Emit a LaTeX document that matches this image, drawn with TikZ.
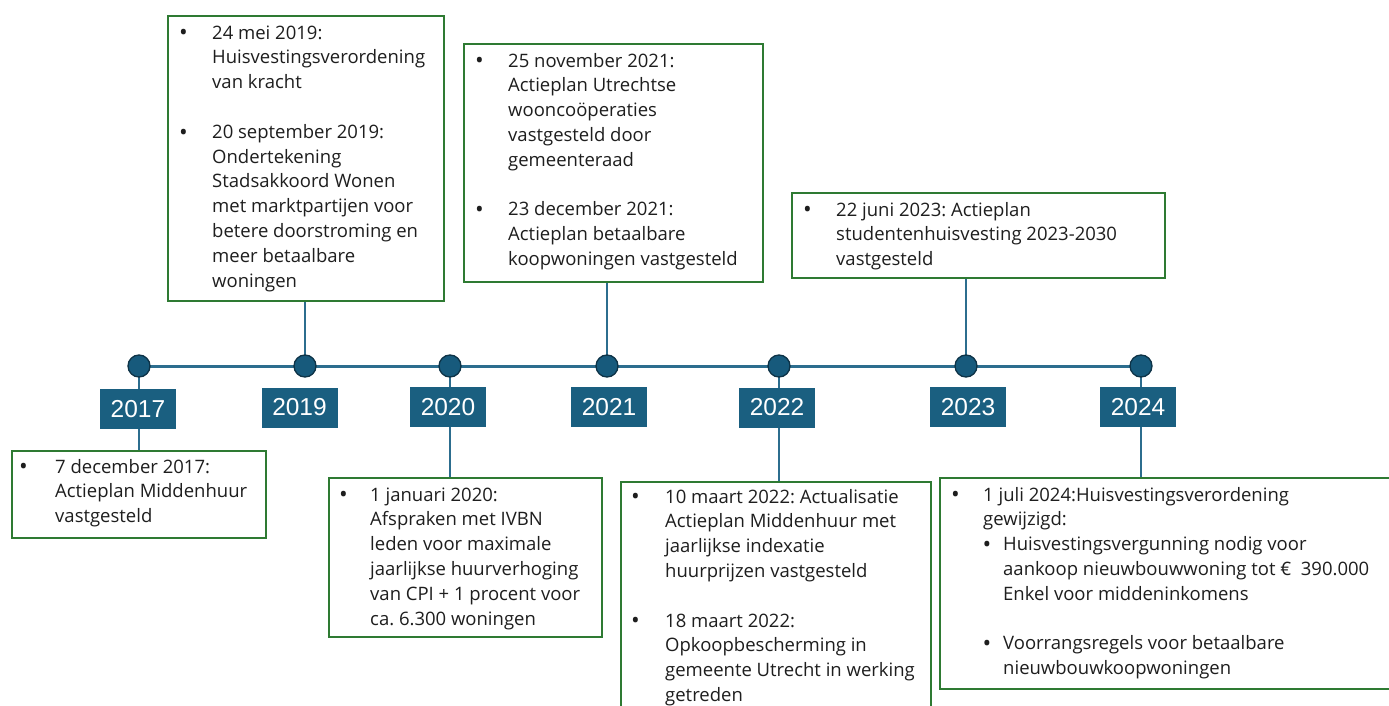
\documentclass[tikz,border=0pt]{standalone}
\usepackage{fontspec}
\setmainfont{Open Sans}
\newfontfamily\yearfont{Liberation Sans}
\usepackage{array}
\usetikzlibrary{backgrounds}
\definecolor{boxgreen}{HTML}{2E7A32}
\definecolor{yearblue}{HTML}{1A5F80}
\definecolor{dotblue}{HTML}{175A7C}
\definecolor{dotedge}{HTML}{0E3347}
\definecolor{lineblue}{HTML}{2C6D8E}
\definecolor{textgray}{HTML}{1E1E1E}
\newcommand\bul[1]{\makebox[#1][l]{\kern-0.5pt\raisebox{-1.8pt}{\scalebox{1.25}{\textbullet}}}}
\frenchspacing
\begin{document}
\begin{tikzpicture}[x=1pt,y=-1pt,
  box/.style={draw=boxgreen, line width=1.6pt, rectangle, inner sep=0pt, anchor=north west},
  yearbox/.style={fill=yearblue, text=white, font=\yearfont\fontsize{24.5}{28}\selectfont, minimum width=76pt, minimum height=40pt, inner sep=0pt},
  dot/.style={circle, fill=dotblue, draw=dotedge, line width=1.3pt, minimum size=22pt, inner sep=0pt},
  txt/.style={anchor=north west, inner sep=0pt, text=textgray, font=\fontsize{18.5}{24.8}\selectfont},
  link/.style={draw=lineblue, line width=2pt},
  axis/.style={draw=lineblue, line width=3pt}]
\useasboundingbox (0,0) rectangle (1389,706);

% event boxes
\node[box, minimum width=254pt, minimum height=87pt] (b2017) at (11,450) {};
\node[box, minimum width=276pt, minimum height=285pt] (b2019) at (167,15) {};
\node[box, minimum width=299pt, minimum height=238pt] (b2021) at (463,43) {};
\node[box, minimum width=373pt, minimum height=85pt] (b2023) at (791,192) {};
\node[box, minimum width=273pt, minimum height=159pt] (b2020) at (328,477) {};
\node[box, minimum width=310pt, minimum height=240pt] (b2022) at (620,481) {};
\node[box, minimum width=460pt, minimum height=211pt] (b2024) at (939,477) {};

% year labels
\node[yearbox] (y2017) at (138,409) {2017};
\node[yearbox] (y2019) at (299.5,407.5) {2019};
\node[yearbox] (y2020) at (448,407) {2020};
\node[yearbox] (y2021) at (609,407) {2021};
\node[yearbox] (y2022) at (777,407.5) {2022};
\node[yearbox] (y2023) at (968,407) {2023};
\node[yearbox] (y2024) at (1138,407) {2024};

% dots
\node[dot] (d2017) at (139,366) {};
\node[dot] (d2019) at (305,366) {};
\node[dot] (d2020) at (450,366) {};
\node[dot] (d2021) at (607,366) {};
\node[dot] (d2022) at (779,366) {};
\node[dot] (d2023) at (966,366) {};
\node[dot] (d2024) at (1141,366) {};

\begin{scope}[on background layer]
  \fill[white] (0,0) rectangle (1389,706);
  \draw[axis] (d2017.center) -- (d2024.center);
  \draw[link] (d2017.center) -- (d2017 |- b2017.north);
  \draw[link] (b2019.south -| d2019) -- (d2019.center);
  \draw[link] (d2020.center) -- (d2020 |- b2020.north);
  \draw[link] (b2021.south -| d2021) -- (d2021.center);
  \draw[link] (d2022.center) -- (d2022 |- b2022.north);
  \draw[link] (b2023.south -| d2023) -- (d2023.center);
  \draw[link] (d2024.center) -- (d2024 |- b2024.north);
\end{scope}

% texts
\node[txt] (t2017) at (19.5,455.6) {\begin{tabular}{@{}l@{}l@{}}
\bul{35.5pt} & 7 december 2017:\\
 & Actieplan Middenhuur\\
 & vastgesteld
\end{tabular}};

\node[txt] (t2019) at (179.5,21.6) {\begin{tabular}{@{}l@{}l@{}}
\bul{32.5pt} & 24 mei 2019:\\
 & Huisvestingsverordening\\
 & van kracht\\
 & \\
\bul{32.5pt} & 20 september 2019:\\
 & Ondertekening\\
 & Stadsakkoord Wonen\\
 & met marktpartijen voor\\
 & betere doorstroming en\\
 & meer betaalbare\\
 & woningen
\end{tabular}};

\node[txt] (t2021) at (475.5,49.6) {\begin{tabular}{@{}l@{}l@{}}
\bul{32.5pt} & 25 november 2021:\\
 & Actieplan Utrechtse\\
 & wooncoöperaties\\
 & vastgesteld door\\
 & gemeenteraad\\
 & \\
\bul{32.5pt} & 23 december 2021:\\
 & Actieplan betaalbare\\
 & koopwoningen vastgesteld
\end{tabular}};

\node[txt] (t2023) at (803.5,198.6) {\begin{tabular}{@{}l@{}l@{}}
\bul{32.5pt} & 22 juni 2023: Actieplan\\
 & studentenhuisvesting 2023-2030\\
 & vastgesteld
\end{tabular}};

\node[txt] (t2020) at (339.5,483.6) {\begin{tabular}{@{}l@{}l@{}}
\bul{30.5pt} & 1 januari 2020:\\
 & Afspraken met IVBN\\
 & leden voor maximale\\
 & jaarlijkse huurverhoging\\
 & van CPI + 1 procent voor\\
 & ca. 6.300 woningen
\end{tabular}};

\node[txt] (t2022) at (631.5,485.6) {\begin{tabular}{@{}l@{}l@{}}
\bul{33.5pt} & 10 maart 2022: Actualisatie\\
 & Actieplan Middenhuur met\\
 & jaarlijkse indexatie\\
 & huurprijzen vastgesteld\\
 & \\
\bul{33.5pt} & 18 maart 2022:\\
 & Opkoopbescherming in\\
 & gemeente Utrecht in werking\\
 & getreden
\end{tabular}};

\node[txt] (t2024) at (951.5,483.6) {\begin{tabular}{@{}l@{}l@{}l@{}}
\bul{31.5pt} & \multicolumn{2}{@{}l@{}}{1 juli 2024:Huisvestingsverordening}\\
 & \multicolumn{2}{@{}l@{}}{gewijzigd:}\\
 & \bul{20pt} & Huisvestingsvergunning nodig voor\\
 & & aankoop nieuwbouwwoning tot €\ \ 390.000\\
 & & Enkel voor middeninkomens\\
 & & \\
 & \bul{20pt} & Voorrangsregels voor betaalbare\\
 & & nieuwbouwkoopwoningen
\end{tabular}};
\end{tikzpicture}
\end{document}
